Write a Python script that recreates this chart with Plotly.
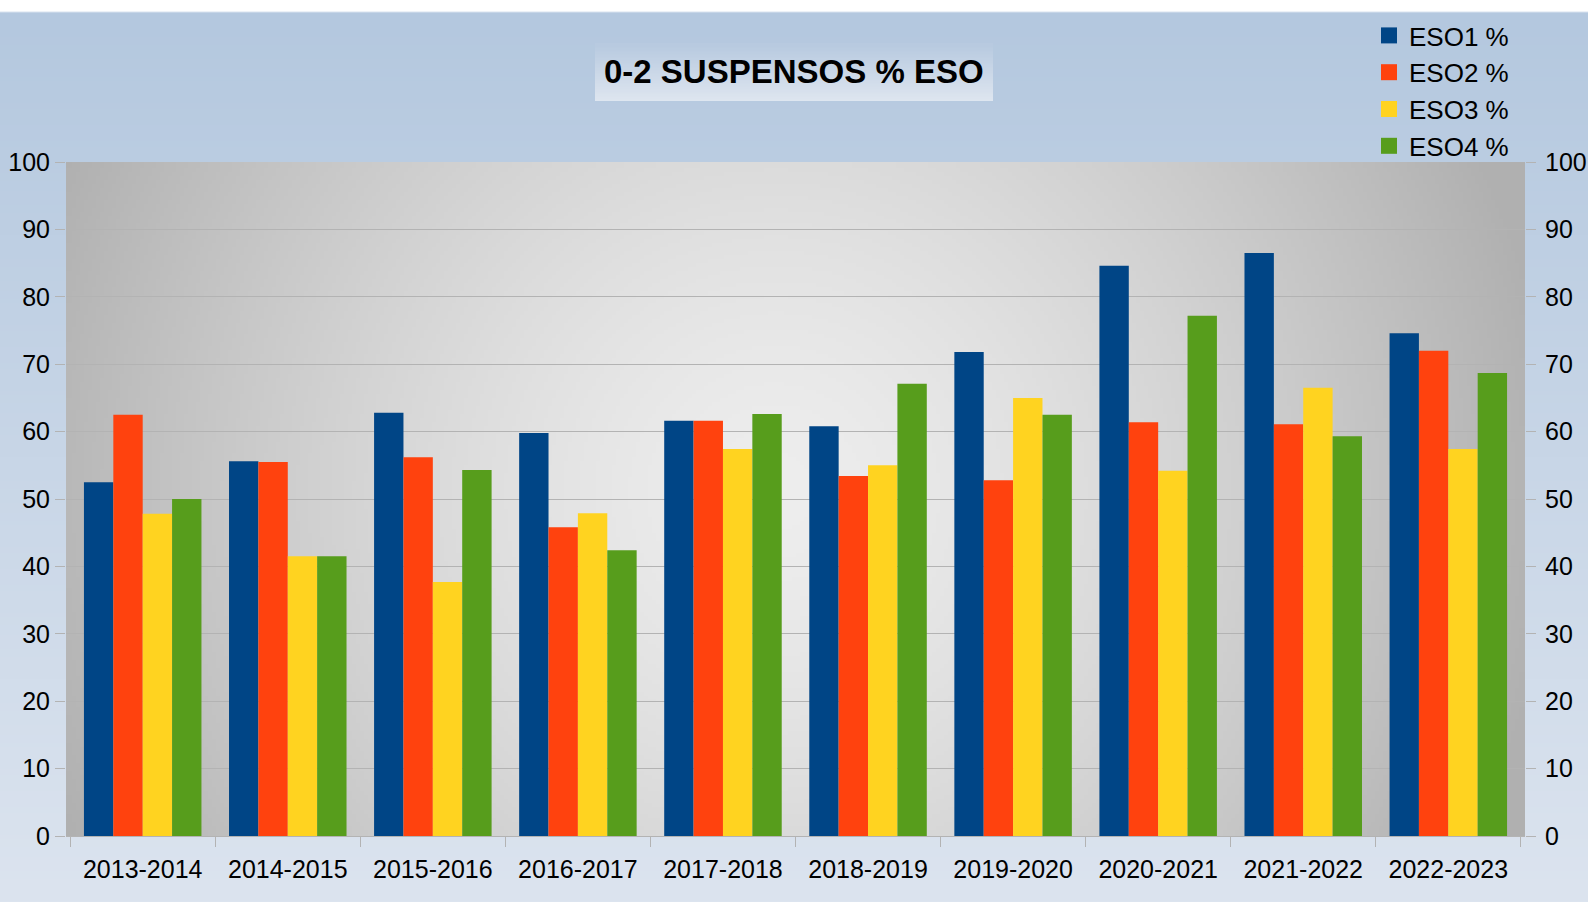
import base64
import struct
import zlib

import numpy as np
import plotly.graph_objects as go

# ---------------- data ----------------
years = ["2013-2014", "2014-2015", "2015-2016", "2016-2017", "2017-2018",
         "2018-2019", "2019-2020", "2020-2021", "2021-2022", "2022-2023"]
eso1 = [52.5, 55.6, 62.8, 59.8, 61.6, 60.8, 71.8, 84.6, 86.5, 74.6]
eso2 = [62.5, 55.5, 56.2, 45.8, 61.6, 53.4, 52.8, 61.4, 61.1, 72.0]
eso3 = [47.8, 41.5, 37.7, 47.9, 57.4, 55.0, 65.0, 54.2, 66.5, 57.4]
eso4 = [50.0, 41.5, 54.3, 42.4, 62.6, 67.1, 62.5, 77.2, 59.3, 68.7]
series_names = ["ESO1 %", "ESO2 %", "ESO3 %", "ESO4 %"]
series_values = [eso1, eso2, eso3, eso4]
y_ticks = [0, 10, 20, 30, 40, 50, 60, 70, 80, 90, 100]
title_text = "0-2 SUSPENSOS % ESO"

colors = ["#004586", "#ff420e", "#ffd320", "#579d1c"]

# ---------------- geometry ----------------
W, H = 1588, 902
L, R, T, B = 66, 1525, 162, 836
PW, PH = R - L, B - T
FONT = "Liberation Sans, Arial, sans-serif"


def png_uri(arr):
    arr = np.ascontiguousarray(arr.astype(np.uint8))
    h, w, _ = arr.shape
    raw = b"".join(b"\x00" + arr[i].tobytes() for i in range(h))

    def chunk(tag, data):
        c = struct.pack(">I", len(data)) + tag + data
        return c + struct.pack(">I", zlib.crc32(tag + data) & 0xFFFFFFFF)

    png = b"\x89PNG\r\n\x1a\n"
    png += chunk(b"IHDR", struct.pack(">IIBBBBB", w, h, 8, 2, 0, 0, 0))
    png += chunk(b"IDAT", zlib.compress(raw, 9))
    png += chunk(b"IEND", b"")
    return "data:image/png;base64," + base64.b64encode(png).decode()


def px_x(px):
    return (px - L) / PW


def px_y(py):
    return (B - py) / PH


# paper background: vertical gradient, white strip on top
ph, pw = H // 2, W // 4
yy = np.linspace(0, H, ph)[:, None]
top = np.array([180, 200, 223], float)
bot = np.array([220, 228, 239], float)
t = np.clip((yy - 12) / (H - 12), 0, 1)
paper = (top + (bot - top) * t[..., None]) * np.ones((ph, pw, 1))
paper[yy[:, 0] < 12] = 255
paper_img = png_uri(paper)

# plot background: radial gray gradient
gh, gw = 170, 365
gx = np.linspace(0, PW, gw)[None, :]
gy = np.linspace(0, PH, gh)[:, None]
cx, cy = 0.486 * PW, 0.49 * PH
d = np.sqrt((gx - cx) ** 2 + (gy - cy) ** 2) / 790.0
g = 238 - (238 - 176) * np.clip(d, 0, 1) ** 1.4
plot_bg = np.repeat(g[..., None], 3, axis=2)
plot_img = png_uri(plot_bg)

# title box gradient
tb_top = np.array([184, 202, 224], float)
tb_bot = np.array([222, 230, 240], float)
tt = np.linspace(0, 1, 40)[:, None, None]
tbox = (tb_top + (tb_bot - tb_top) * tt) * np.ones((40, 4, 1))
title_img = png_uri(tbox)

fig = go.Figure()
for name, vals, col in zip(series_names, series_values, colors):
    fig.add_trace(go.Bar(x=years, y=vals, name=name, marker_color=col,
                         marker_line_width=0, showlegend=False))
# legend entries with larger square swatches
for name, col in zip(series_names, colors):
    fig.add_trace(go.Scatter(x=[None], y=[None], mode="markers", name=name,
                             marker=dict(symbol="square", size=16, color=col)))
# invisible trace to activate the mirrored right axis
fig.add_trace(go.Scatter(x=years, y=eso1, yaxis="y2", mode="markers",
                         marker=dict(opacity=0), showlegend=False,
                         hoverinfo="skip"))

fig.add_layout_image(dict(source=paper_img, xref="paper", yref="paper",
                          x=px_x(0), y=px_y(0), sizex=W / PW, sizey=H / PH,
                          xanchor="left", yanchor="top", sizing="stretch",
                          layer="below"))
fig.add_layout_image(dict(source=plot_img, xref="paper", yref="paper",
                          x=0, y=1, sizex=1, sizey=1,
                          xanchor="left", yanchor="top", sizing="stretch",
                          layer="below"))
fig.add_layout_image(dict(source=title_img, xref="paper", yref="paper",
                          x=px_x(595), y=px_y(43), sizex=(993 - 595) / PW,
                          sizey=(101 - 43) / PH,
                          xanchor="left", yanchor="top", sizing="stretch",
                          layer="below"))

fig.add_annotation(text="<b>" + title_text + "</b>", xref="paper", yref="paper",
                   x=px_x(794), y=px_y(71), xanchor="center", yanchor="middle",
                   showarrow=False, font=dict(family=FONT, size=33, color="#000000"))

grid = "#b3b3b3"
fig.update_layout(
    width=W, height=H,
    margin=dict(l=L, r=W - R, t=T, b=H - B, autoexpand=False),
    paper_bgcolor="rgba(0,0,0,0)",
    plot_bgcolor="rgba(0,0,0,0)",
    barmode="group",
    bargap=0.19,
    bargroupgap=0,
    font=dict(family=FONT, size=25, color="#000000"),
    showlegend=True,
    legend=dict(x=px_x(1369), y=px_y(12), xanchor="left", yanchor="top",
                bgcolor="rgba(0,0,0,0)", font=dict(family=FONT, size=26),
                tracegroupgap=0),
    xaxis=dict(type="category", tickson="boundaries", ticks="outside",
               ticklen=10, tickcolor=grid, showline=True, linecolor=grid,
               showgrid=False, tickfont=dict(size=25), automargin=False,
               ticklabelstandoff=11),
    yaxis=dict(range=[0, 100], tickvals=y_ticks, ticks="outside", ticklen=10,
               tickcolor=grid, showgrid=True, gridcolor=grid, gridwidth=1,
               zeroline=False, showline=False, tickfont=dict(size=25),
               automargin=False),
    yaxis2=dict(range=[0, 100], tickvals=y_ticks, ticks="outside", ticklen=10,
                tickcolor=grid, overlaying="y", side="right", showgrid=False,
                zeroline=False, showline=False, tickfont=dict(size=25),
                automargin=False, ticklabelstandoff=4),
)

fig.write_html("out.html",
               config={"displayModeBar": False},
               post_script="document.body.style.margin='0';"
                           "document.body.style.overflow='hidden';")
